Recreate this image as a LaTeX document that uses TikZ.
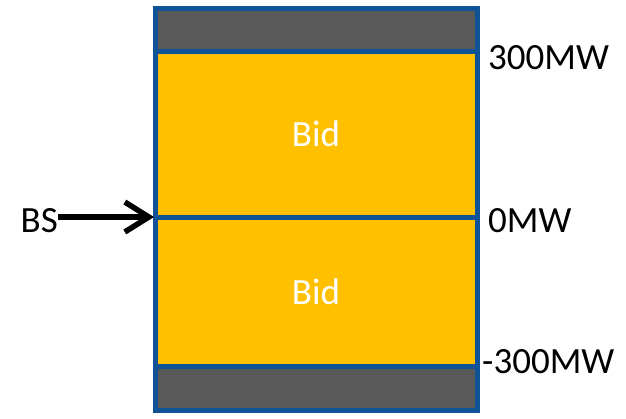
\documentclass[tikz,border=0pt]{standalone}
\usepackage{fontspec}
\setmainfont{Carlito}
\usetikzlibrary{arrows.meta,positioning}
\definecolor{bandblue}{RGB}{16,82,150}
\definecolor{bidyellow}{RGB}{255,192,0}
\definecolor{capgrey}{RGB}{89,89,89}

\begin{document}
\begin{tikzpicture}[x=1pt,y=-1pt]
\tikzstyle{band}=[draw=bandblue, line width=5pt, minimum width=322pt, inner sep=0pt, outer sep=0pt]
\tikzstyle{lbl}=[inner sep=0pt, font=\fontsize{37}{40}\selectfont]
\useasboundingbox (0,0) rectangle (626,418);
\node[band, fill=capgrey, minimum height=43pt] (topcap) at (316,29.5) {};
\node[band, fill=bidyellow, minimum height=166pt, below=0pt of topcap] (upper) {};
\node[band, fill=bidyellow, minimum height=149pt, below=0pt of upper] (lower) {};
\node[band, fill=capgrey, minimum height=44pt, below=0pt of lower] (botcap) {};
\node[lbl, text=white] at (upper.center) {Bid};
\node[lbl, text=white] at (lower.center) {Bid};
\node[lbl, anchor=west] (hi) at (488,58) {300MW};
\node[lbl, anchor=west] (mid) at (488,221) {0MW};
\node[lbl, anchor=west] (lo) at (482,362) {-300MW};
\node[lbl, anchor=east] (bs) at (58,221) {BS};
\draw[line width=5.5pt, -{Straight Barb[length=24pt,width=30pt]}] (bs.east |- upper.south west) -- ([xshift=-1pt]upper.south west);
\end{tikzpicture}
\end{document}
